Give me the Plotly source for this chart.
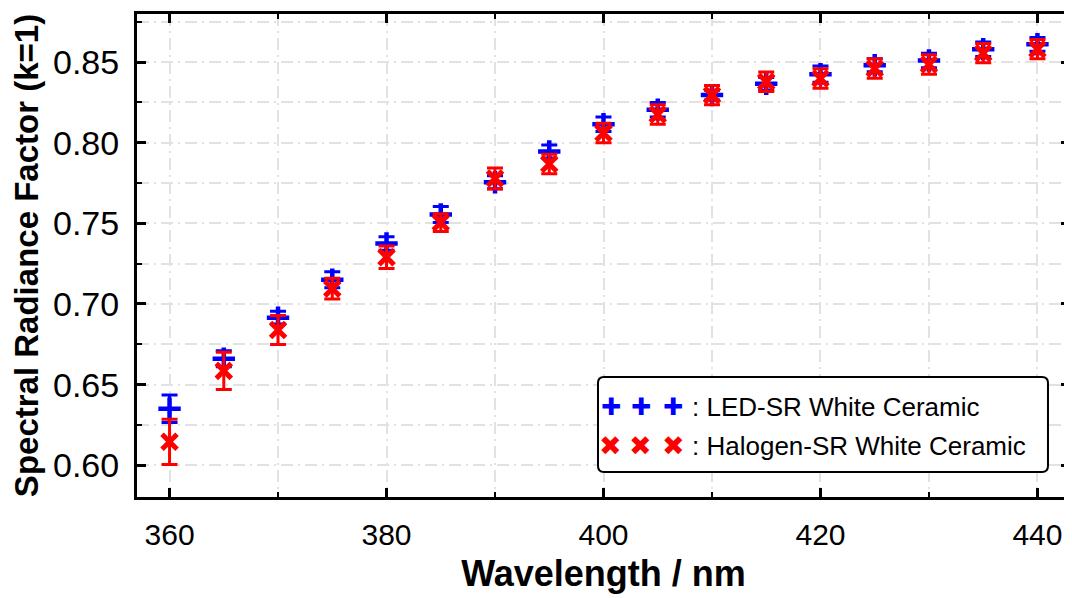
import plotly.graph_objects as go

wavelength = [360, 365, 370, 375, 380, 385, 390, 395, 400, 405, 410, 415, 420, 425, 430, 435, 440]
led_sr = [0.635, 0.666, 0.6915, 0.715, 0.7375, 0.7555, 0.7755, 0.7945, 0.8115, 0.8205,
          0.8295, 0.8365, 0.8425, 0.848, 0.851, 0.858, 0.861]
led_err = [0.0085, 0.005, 0.004, 0.005, 0.0042, 0.005, 0.004, 0.004, 0.0045, 0.0045,
           0.003, 0.004, 0.005, 0.004, 0.0045, 0.0045, 0.0043]
halogen_sr = [0.6145, 0.6585, 0.6838, 0.7095, 0.729, 0.7505, 0.7778, 0.7868, 0.806, 0.8175,
              0.8295, 0.8378, 0.8398, 0.846, 0.8485, 0.8555, 0.858]
halogen_err = [0.014, 0.0115, 0.009, 0.0065, 0.007, 0.0055, 0.0065, 0.006, 0.006, 0.006,
               0.006, 0.006, 0.006, 0.006, 0.006, 0.006, 0.006]

led_name = ": LED-SR White Ceramic"
hal_name = ": Halogen-SR White Ceramic"
BLUE = "#0000ff"
RED = "#ff0000"

fig = go.Figure()
fig.add_trace(go.Scatter(
    x=wavelength, y=led_sr, mode="markers", name=led_name,
    marker=dict(symbol="cross-thin", size=16, color=BLUE, line=dict(color=BLUE, width=4.5)),
    error_y=dict(type="data", array=led_err, visible=True, color=BLUE, thickness=3, width=8),
    showlegend=False,
))
fig.add_trace(go.Scatter(
    x=wavelength, y=halogen_sr, mode="markers", name=hal_name,
    marker=dict(symbol="x-thin", size=15, color=RED, line=dict(color=RED, width=5)),
    error_y=dict(type="data", array=halogen_err, visible=True, color=RED, thickness=3, width=8),
    showlegend=False,
))

grid_col = "#e2e2e2"
grid_dash = "12px,5px,2px,5px"
FONT = "Liberation Sans, Arial, sans-serif"

fig.update_xaxes(
    range=[357, 443], tickmode="linear", tick0=360, dtick=20,
    showline=True, linecolor="black", linewidth=3, mirror="ticks",
    ticks="inside", ticklen=9, tickwidth=2.5, tickcolor="black",
    showgrid=True, gridcolor=grid_col, gridwidth=1.5, griddash=grid_dash,
    zeroline=False,
    tickfont=dict(family=FONT, size=30, color="black"),
    ticklabelstandoff=9,
    minor=dict(dtick=10, tick0=360, ticks="inside", ticklen=5, tickwidth=2, tickcolor="black",
               showgrid=True, gridcolor=grid_col, gridwidth=1.5, griddash=grid_dash),
    title=dict(text="<b>Wavelength / nm</b>", standoff=11,
               font=dict(family=FONT, size=36, color="black")),
)
fig.update_yaxes(
    range=[0.5803, 0.8798], tickmode="linear", tick0=0.6, dtick=0.05, tickformat=".2f",
    showline=True, linecolor="black", linewidth=3, mirror="ticks",
    ticks="inside", ticklen=9, tickwidth=2.5, tickcolor="black",
    showgrid=True, gridcolor=grid_col, gridwidth=1.5, griddash=grid_dash,
    zeroline=False,
    tickfont=dict(family=FONT, size=34, color="black"),
    ticklabelstandoff=8,
    minor=dict(dtick=0.025, tick0=0.6, ticks="inside", ticklen=5, tickwidth=2, tickcolor="black",
               showgrid=True, gridcolor=grid_col, gridwidth=1.5, griddash=grid_dash),
    title=dict(text="<b>Spectral Radiance Factor (k=1)</b>", standoff=5,
               font=dict(family=FONT, size=33, color="black")),
)

# Legend box (rounded rectangle in paper coords)
x0, x1, y0, y1 = 0.4941, 0.9764, 0.0518, 0.2484
rx, ry = 0.0064, 0.0124
path = (f"M {x0+rx},{y1} L {x1-rx},{y1} Q {x1},{y1} {x1},{y1-ry} "
        f"L {x1},{y0+ry} Q {x1},{y0} {x1-rx},{y0} L {x0+rx},{y0} Q {x0},{y0} {x0},{y0+ry} "
        f"L {x0},{y1-ry} Q {x0},{y1} {x0+rx},{y1} Z")
fig.add_shape(type="path", path=path, xref="paper", yref="paper",
              line=dict(color="black", width=2), fillcolor="white", layer="above")

legend_rows = [(led_name, "✚", BLUE, 0.1863, 24), (hal_name, "✖", RED, 0.1056, 27)]
for name, glyph, col, ypos, gsize in legend_rows:
    for xm in (0.508, 0.540, 0.5745):
        fig.add_annotation(x=xm, y=ypos, xref="paper", yref="paper", text=glyph, showarrow=False,
                           font=dict(family="DejaVu Sans", size=gsize, color=col),
                           xanchor="center", yanchor="middle")
    fig.add_annotation(x=0.5927, y=ypos, xref="paper", yref="paper", text=name, showarrow=False,
                       font=dict(family=FONT, size=26, color="black"),
                       xanchor="left", yanchor="middle")

# The page body adds an 8 px offset, so the figure is sized/margined to compensate.
fig.update_layout(
    width=1064, height=590,
    margin=dict(l=129, r=2, t=6, b=101, autoexpand=False),
    plot_bgcolor="white", paper_bgcolor="white",
    showlegend=False,
)

fig.write_html("out.html")
